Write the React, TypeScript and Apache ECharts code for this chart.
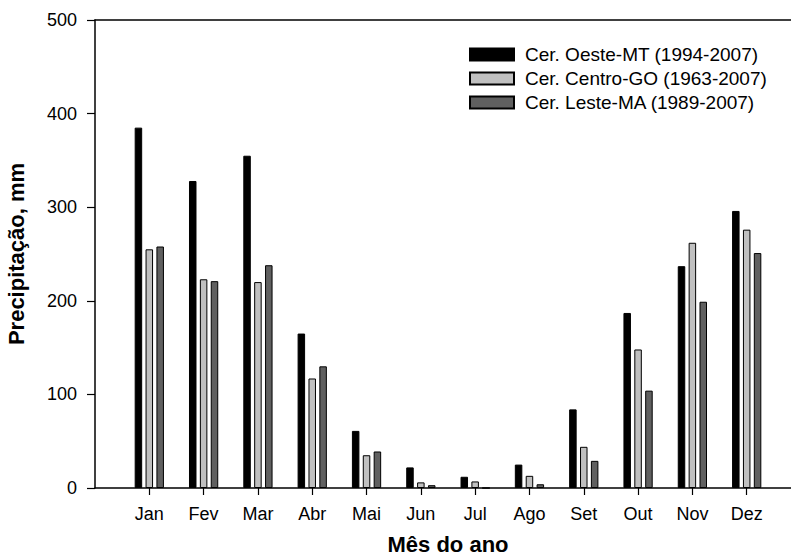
import React, { useEffect, useRef } from "react";
import * as echarts from "echarts";

const months = ["", "Jan", "Fev", "Mar", "Abr", "Mai", "Jun", "Jul", "Ago", "Set", "Out", "Nov", "Dez", ""];
const seriesNames = [
  "Cer. Oeste-MT (1994-2007)",
  "Cer. Centro-GO (1963-2007)",
  "Cer. Leste-MA (1989-2007)",
];
const oesteMT = [385, 328, 355, 165, 61, 22, 12, 25, 84, 187, 237, 296];
const centroGO = [255, 223, 220, 117, 35, 6, 7, 13, 44, 148, 262, 276];
const lesteMA = [258, 221, 238, 130, 39, 3, 0, 4, 29, 104, 199, 251];
const yTicks = { min: 0, max: 500, interval: 100 };

const FONT = "Liberation Sans, Arial, Helvetica, sans-serif";

function pad(values: number[]) {
  return ["-", ...values, "-"];
}

export default function App() {
  const ref = useRef<HTMLDivElement>(null);
  useEffect(() => {
    if (!ref.current) return;
    const chart = echarts.init(ref.current, undefined, { renderer: "svg" });
    const barBase = {
      type: "bar" as const,
      barWidth: 7.5,
      barGap: "45%",
    };
    chart.setOption({
      animation: false,
      textStyle: { fontFamily: FONT },
      grid: {
        left: 95,
        top: 20,
        width: 706,
        height: 468,
        containLabel: false,
        outerBoundsMode: "none",
      },
      legend: {
        orient: "vertical",
        left: 469,
        top: 45,
        itemWidth: 44,
        itemHeight: 12,
        itemGap: 5,
        padding: 0,
        icon: "rect",
        textStyle: { fontSize: 19, color: "#000", fontFamily: FONT, padding: [0, 0, 0, 6] },
        data: seriesNames,
      },
      xAxis: [
        {
          type: "category",
          data: months,
          boundaryGap: false,
          name: "Mês do ano",
          nameLocation: "middle",
          nameGap: 45,
          nameTextStyle: { fontSize: 22, fontWeight: "bold", color: "#000", fontFamily: FONT, lineHeight: 22 },
          axisLine: { show: true, lineStyle: { color: "#000", width: 1.5 } },
          axisTick: {
            show: true,
            length: 7,
            lineStyle: { color: "#000", width: 1.2 },
            interval: (idx: number) => idx > 0 && idx < months.length - 1,
          },
          axisLabel: { interval: 0, fontSize: 18, color: "#000", margin: 17, fontFamily: FONT },
          splitLine: { show: false },
        },
        {
          type: "category",
          data: months,
          boundaryGap: false,
          position: "top",
          axisLine: { show: true, lineStyle: { color: "#000", width: 1.5 } },
          axisTick: { show: false },
          axisLabel: { show: false },
          splitLine: { show: false },
        },
      ],
      yAxis: {
        type: "value",
        min: yTicks.min,
        max: yTicks.max,
        interval: yTicks.interval,
        name: "Precipitação, mm",
        nameLocation: "middle",
        nameGap: 68,
        nameTextStyle: { fontSize: 22, fontWeight: "bold", color: "#000", fontFamily: FONT },
        axisLine: { show: true, lineStyle: { color: "#000", width: 1.5 } },
        axisTick: { show: true, length: 8, lineStyle: { color: "#000", width: 1.2 } },
        axisLabel: { fontSize: 18, color: "#000", margin: 18, fontFamily: FONT },
        splitLine: { show: false },
      },
      series: [
        {
          ...barBase,
          name: seriesNames[0],
          data: pad(oesteMT),
          itemStyle: { color: "#000000", borderColor: "#000", borderWidth: 1 },
        },
        {
          ...barBase,
          name: seriesNames[1],
          data: pad(centroGO),
          itemStyle: { color: "#c0c0c0", borderColor: "#000", borderWidth: 1 },
        },
        {
          ...barBase,
          name: seriesNames[2],
          data: pad(lesteMA),
          itemStyle: { color: "#606060", borderColor: "#000", borderWidth: 1 },
        },
      ],
    });
    return () => chart.dispose();
  }, []);
  return (
    <div
      ref={ref}
      style={{ position: "fixed", left: 0, top: 0, width: 791, height: 558, background: "#fff" }}
    />
  );
}
